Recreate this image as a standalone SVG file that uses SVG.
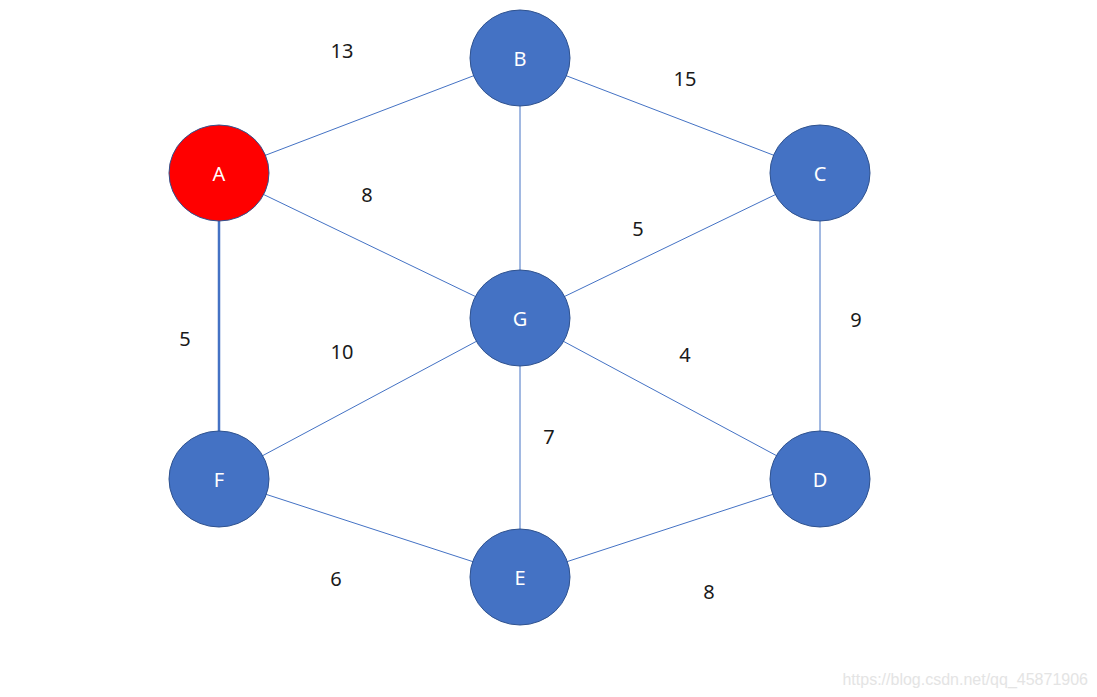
<svg xmlns="http://www.w3.org/2000/svg" width="1097" height="697" viewBox="0 0 1097 697">
<style>
.e{stroke:#4472c4;stroke-width:1}
.n{fill:#4472c4;stroke:#2f528f;stroke-width:1}
.nl{font-family:"Noto Sans",sans-serif;font-size:20px;fill:#ffffff;text-anchor:middle;dominant-baseline:central}
.w{font-family:"Noto Sans",sans-serif;font-size:20px;fill:#1a1a1a;text-anchor:middle;dominant-baseline:central}
.wm{font-family:"Liberation Sans",Arial,sans-serif;font-size:16px;fill:#e4e4e4;text-anchor:end}
</style>
<rect width="1097" height="697" fill="#ffffff"/>
<g id="connectors">
<line class="e" x1="219" y1="173" x2="520" y2="58"/>
<line class="e" x1="219" y1="173" x2="520" y2="318"/>
<line class="e" x1="520" y1="58" x2="820" y2="173"/>
<line class="e" x1="520" y1="58" x2="520" y2="318"/>
<line class="e" x1="520" y1="318" x2="820" y2="173"/>
<line class="e" x1="820" y1="173" x2="820" y2="479"/>
<line class="e" x1="520" y1="318" x2="820" y2="479"/>
<line class="e" x1="520" y1="318" x2="219" y2="479"/>
<line class="e" x1="520" y1="318" x2="520" y2="577"/>
<line class="e" x1="219" y1="479" x2="520" y2="577"/>
<line class="e" x1="520" y1="577" x2="820" y2="479"/>
<line x1="219" y1="173" x2="219" y2="479" stroke="#4472c4" stroke-width="2.5"/>
</g>
<g id="weights">
<text class="w" x="342" y="50">13</text>
<text class="w" x="685" y="78">15</text>
<text class="w" x="367" y="194">8</text>
<text class="w" x="638" y="228">5</text>
<text class="w" x="856" y="319">9</text>
<text class="w" x="185" y="338">5</text>
<text class="w" x="342" y="351">10</text>
<text class="w" x="685" y="354">4</text>
<text class="w" x="549" y="436">7</text>
<text class="w" x="336" y="578">6</text>
<text class="w" x="709" y="591">8</text>
</g>
<g id="node-A"><ellipse class="n" cx="219" cy="173" rx="50" ry="48" style="fill:#ff0000"/><text class="nl" x="219" y="173">A</text></g>
<g id="node-B"><ellipse class="n" cx="520" cy="58" rx="50" ry="48"/><text class="nl" x="520" y="58">B</text></g>
<g id="node-C"><ellipse class="n" cx="820" cy="173" rx="50" ry="48"/><text class="nl" x="820" y="173">C</text></g>
<g id="node-G"><ellipse class="n" cx="520" cy="318" rx="50" ry="48"/><text class="nl" x="520" y="318">G</text></g>
<g id="node-F"><ellipse class="n" cx="219" cy="479" rx="50" ry="48"/><text class="nl" x="219" y="479">F</text></g>
<g id="node-D"><ellipse class="n" cx="820" cy="479" rx="50" ry="48"/><text class="nl" x="820" y="479">D</text></g>
<g id="node-E"><ellipse class="n" cx="520" cy="577" rx="50" ry="48"/><text class="nl" x="520" y="577">E</text></g>
<text class="wm" x="1088" y="685">https://blog.csdn.net/qq_45871906</text>
</svg>
